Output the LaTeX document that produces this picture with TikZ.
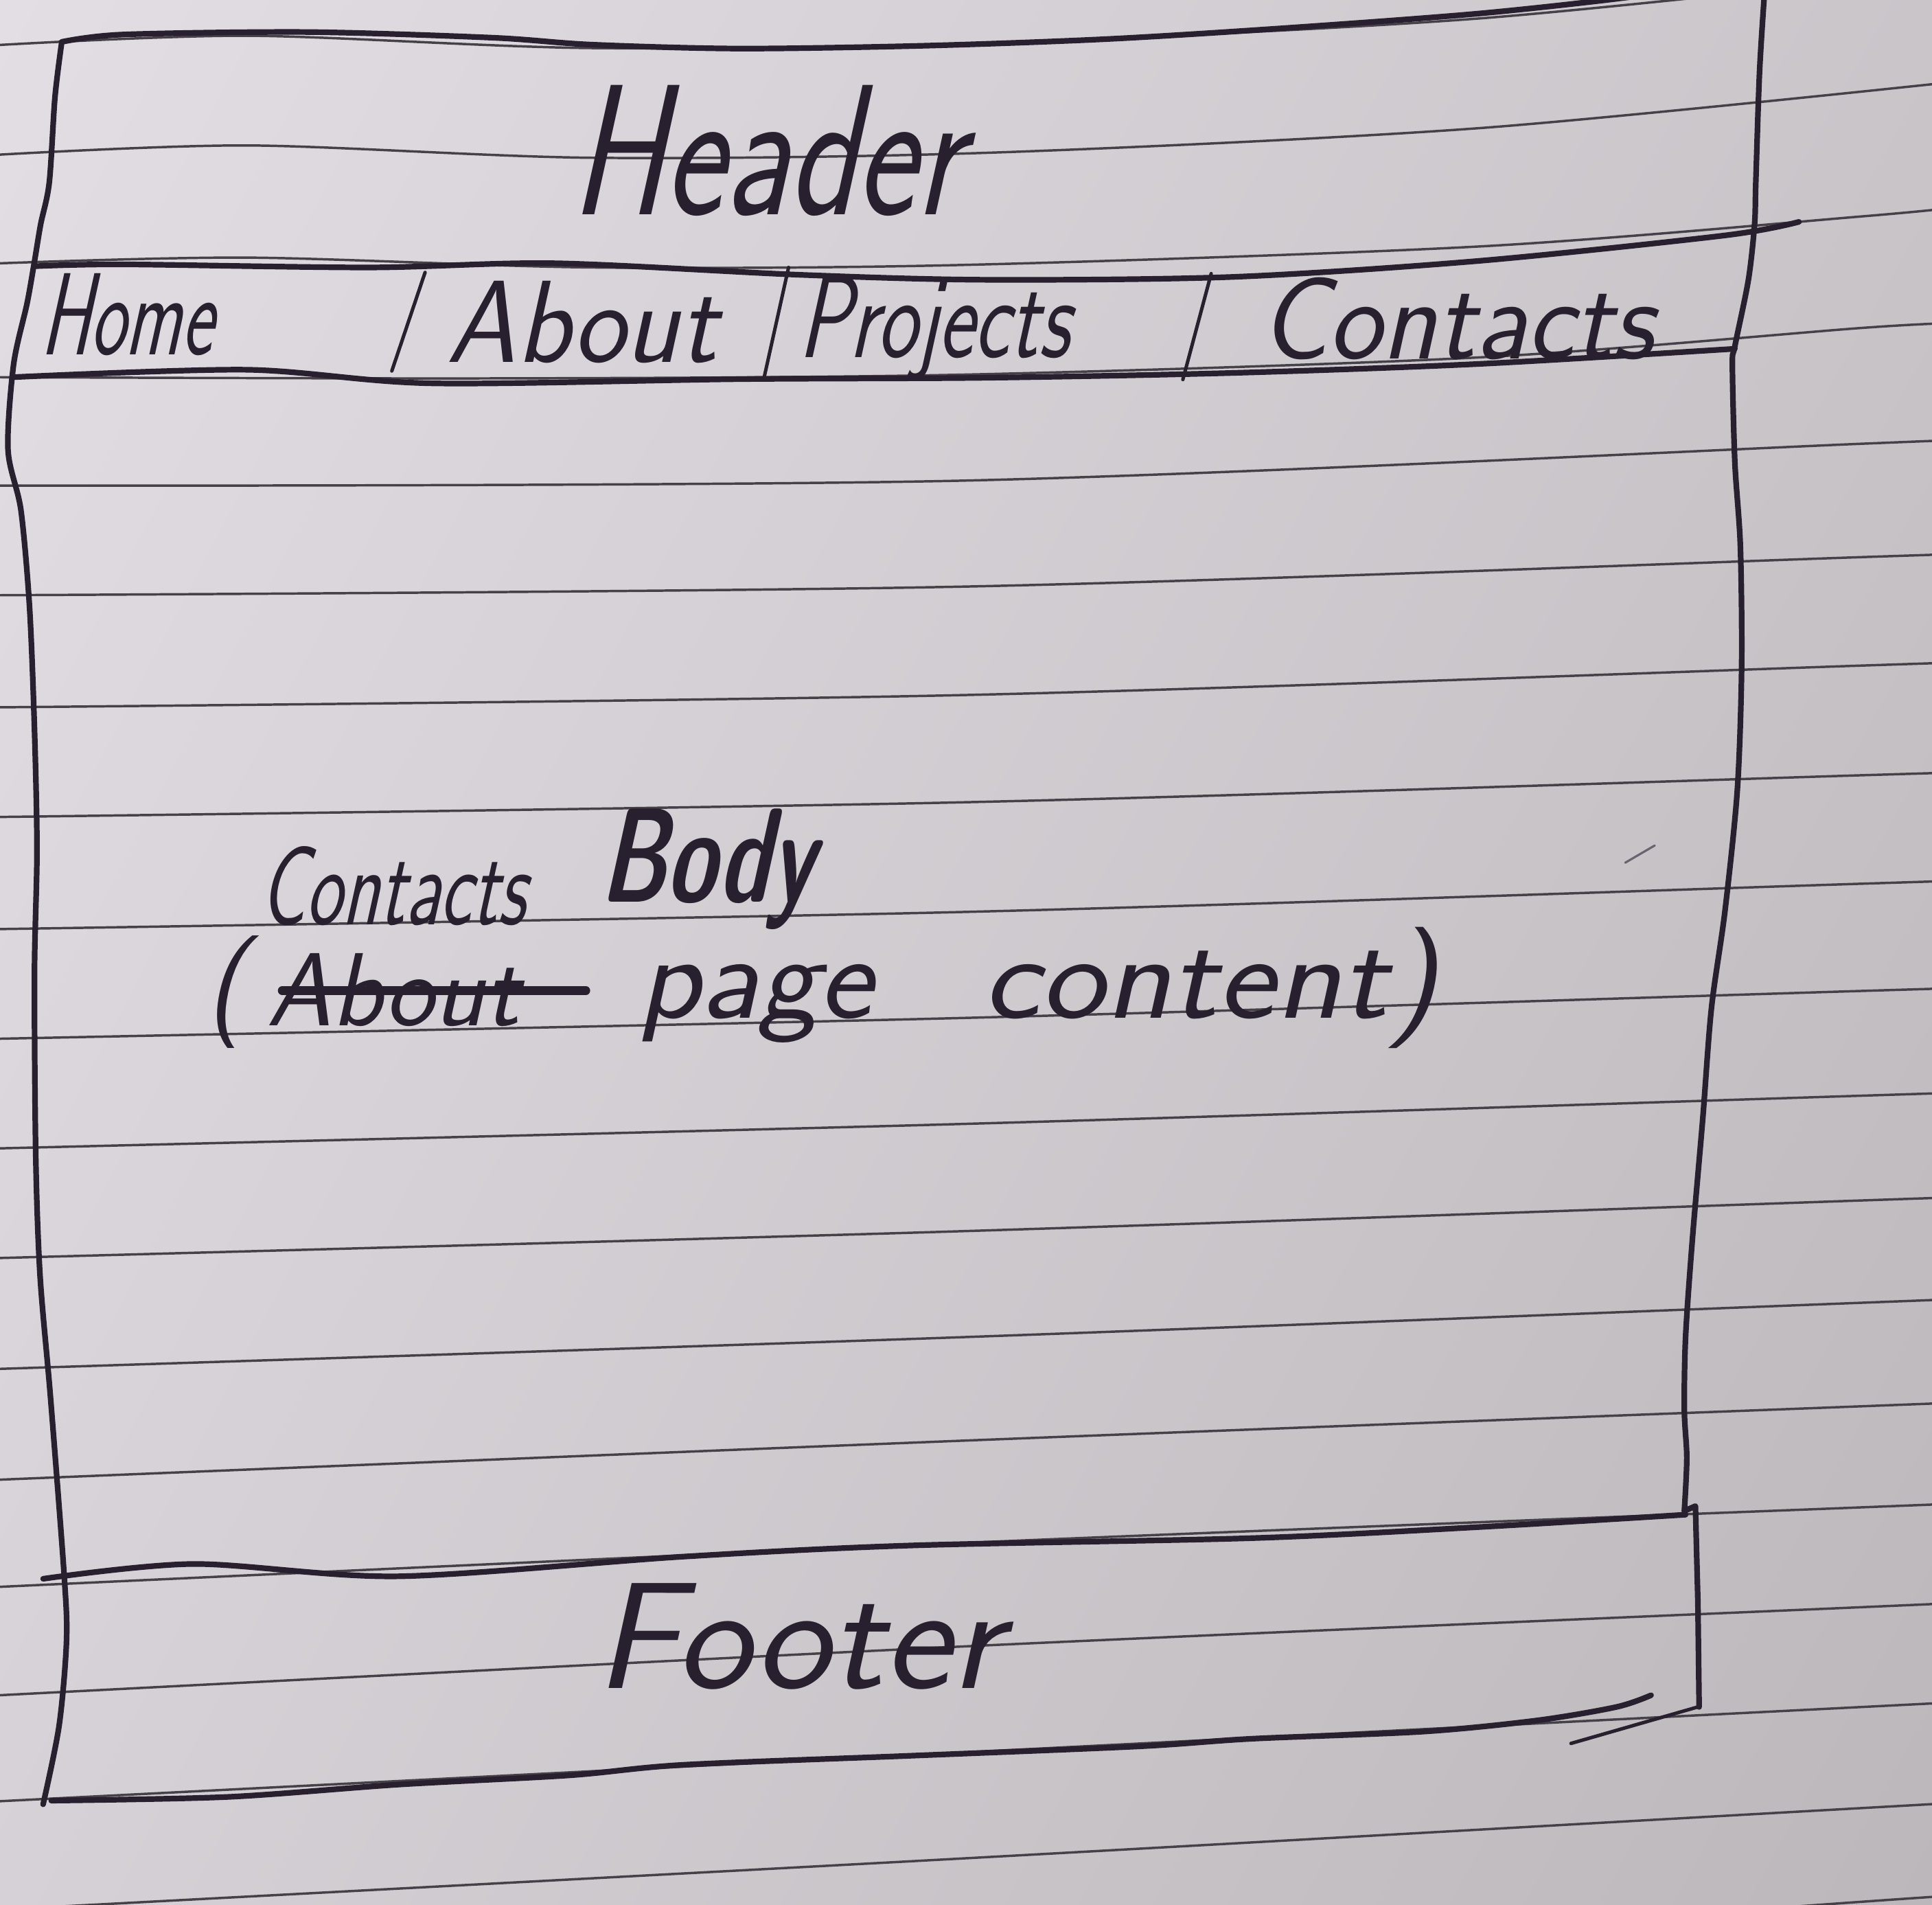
\documentclass[tikz,border=0pt]{standalone}
\usepackage{fontspec}
\usetikzlibrary{shadings}
\definecolor{inkc}{RGB}{40,32,46}
\definecolor{rulec}{RGB}{70,64,72}
\definecolor{paperUL}{RGB}{226,222,228}
\definecolor{paperUR}{RGB}{202,197,201}
\definecolor{paperLL}{RGB}{214,209,214}
\definecolor{paperLR}{RGB}{188,183,186}
\begin{document}
\begin{tikzpicture}[x=0.01cm,y=-0.01cm,
  ink/.style={draw=inkc, line width=1.3pt, line cap=round, line join=round},
  thinink/.style={draw=inkc, line width=0.8pt, line cap=round, line join=round},
  ruled/.style={draw=rulec, line width=0.55pt},
  hand/.style={text=inkc, inner sep=0pt, anchor=base west, xslant=0.22},
  navtext/.style={hand, font=\fontsize{27}{30}\selectfont\sffamily},
  bodytext/.style={hand, font=\fontsize{28}{32}\selectfont\sffamily},
]
\useasboundingbox (0,0) rectangle (1568,1545.7);
\begin{scope}
\clip (0,0) rectangle (1568,1545.7);

% paper
\shade[upper left=paperUL, upper right=paperUR, lower left=paperLL, lower right=paperLR]
  (0,0) rectangle (1568,1545.7);

% ruled lines of the notebook page
\draw[ruled] plot[smooth] coordinates {(-10,37) (200,29) (480,39) (800,35) (1200,15) (1590,-25)};
\draw[ruled] plot[smooth] coordinates {(-10,126) (200,118) (480,128) (800,124) (1200,104) (1590,66)};
\draw[ruled] plot[smooth] coordinates {(-10,214) (200,209) (480,217) (780,215) (1200,200) (1512,175.5) (1590,168)};
\draw[ruled] plot[smooth] coordinates {(-10,306) (400,307) (780,304) (1200,290) (1512,266) (1590,262)};
\foreach \a/\b/\c/\d in {394/390/360/357, 483/476/452/449.4, 574/564/540/537.4,
    663/651/629/626.7, 754/740/717/714.5, 843/826/804/801.7, 932/912/889/886.5,
    1021/999/974/971.3, 1111/1085/1057/1054, 1201/1169/1141/1138,
    1288/1252/1223/1220, 1376/1336/1304/1300.6, 1462/1422/1385/1381,
    1550/1508/1467/1462.6, 1638/1595/1543/1538}
  \draw[ruled] plot[smooth] coordinates {(-10,\a) (780,\b) (1512,\c) (1590,\d)};

% outer frame: left edge
\draw[ink] plot[smooth, tension=0.5] coordinates {(50,35) (44.6,79) (40,148) (33,182)
  (28,212) (22,246) (11,296) (6.5,365) (17,414) (24,493) (28,592) (30,690) (28,789)
  (29,937) (32.5,1035) (41,1134) (52,1277) (54,1331) (48,1400) (35,1464)};
% top edge of the header
\draw[ink] plot[smooth] coordinates {(50,34) (100,28) (250,26) (400,30.6) (480,36.2)
  (600,39.4) (750,37.1) (900,31.6) (1050,22.3) (1200,11) (1320,-2) (1380,-12)};
% right edge down to the footer
\draw[ink] plot[smooth, tension=0.5] coordinates {(1432,-5) (1428,59) (1425,148) (1424,182)
  (1419,227) (1408,281) (1406,296) (1408,375) (1412.5,444) (1413.5,542) (1410,641)
  (1400,739) (1389,818) (1382,907) (1373.5,1006) (1368,1085) (1367,1144) (1369,1183)
  (1367,1226)};
\draw[ink] (1367,1226) -- (1376,1222) -- (1378,1300) -- (1379,1385);

% navigation bar
\draw[ink] plot[smooth] coordinates {(28,216) (100,214.5) (300,217) (450,213.6) (650,223)
  (800,227) (1000,224.7) (1200,211.7) (1400,191) (1460,180)};
\draw[ink] plot[smooth] coordinates {(11,306) (200,300) (350,311) (600,307.6) (800,306.5)
  (1000,302.6) (1200,295.3) (1408,283)};
\draw[thinink] (345,221) -- (318,301);
\draw[thinink] (640,217) -- (620,307);
\draw[thinink] (983,222) -- (960,308);

% footer
\draw[ink] plot[smooth] coordinates {(35,1281) (157,1269) (323,1279) (555,1263) (739,1254)
  (1017,1248) (1201,1239) (1368,1229)};
\draw[ink] plot[smooth] coordinates {(41.6,1461) (185,1458) (323,1448) (462,1440.5)
  (554,1432) (739,1424.6) (924,1417) (1016,1410.8) (1155,1405) (1247,1396) (1312,1385)
  (1340,1375.5)};
\draw[thinink] (1275,1414.6) -- (1378,1385);

% small stray pen mark
\draw[draw=inkc!70, line width=0.5pt, line cap=round] (1319,700) -- (1343,686);

% labels
\node[hand, font=\fontsize{43}{50}\selectfont\sffamily, xscale=0.76] (header) at (462,174) {Header};

\node[navtext, xscale=0.64] (home) at (32,288) {Home};
\node[navtext, xscale=0.95] (about) at (362,294) {About};
\node[navtext, xscale=0.73] (projects) at (647,290) {Projects};
\node[navtext, xscale=0.97] (contacts) at (1022,291) {Contacts};

\node[hand, font=\fontsize{31}{36}\selectfont\sffamily\bfseries, xscale=0.67] (body) at (486,732) {Body};
\node[hand, font=\fontsize{26}{30}\selectfont\sffamily, xscale=0.68] (newpage) at (210,750) {Contacts};

\node[hand, font=\fontsize{26}{30}\selectfont\sffamily] (lparen) at (166,828) {(};
\node[hand, font=\fontsize{24}{28}\selectfont\sffamily, xscale=1.0] (oldpage) at (216,832) {About};
% strike-through of the replaced word
\draw[draw=inkc, line width=2pt, line cap=round]
  ([yshift=-0.31cm]oldpage.north west) -- ([xshift=0.4cm, yshift=-0.31cm]oldpage.north east);
\node[bodytext, xscale=1.06] (pagew) at (517,826) {page};
\node[bodytext, xscale=1.13] (contentw) at (797,826) {content)};

\node[hand, font=\fontsize{35}{40}\selectfont\sffamily, xscale=1.05] (footer) at (482,1370) {Footer};
\end{scope}
\end{tikzpicture}
\end{document}
